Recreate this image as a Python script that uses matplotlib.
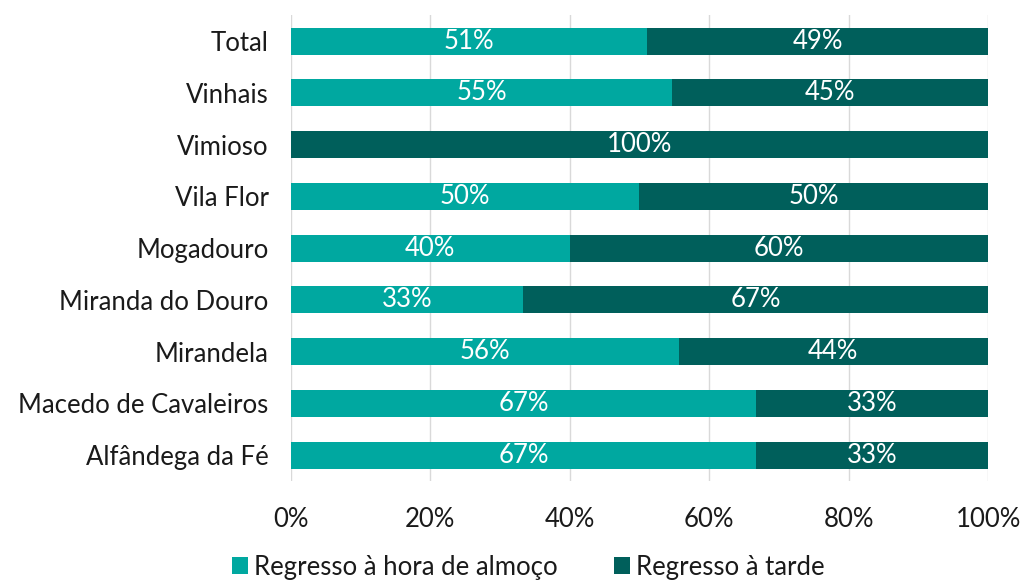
import matplotlib.pyplot as plt
import numpy as np

plt.rcParams['font.family'] = ['Lato', 'DejaVu Sans']

concelhos = ["Alfândega da Fé", "Macedo de Cavaleiros", "Mirandela", "Miranda do Douro",
             "Mogadouro", "Vila Flor", "Vimioso", "Vinhais", "Total"]
almoco = [66.7, 66.7, 55.6, 33.3, 40.0, 50.0, 0.0, 54.7, 51.1]
tarde = [33.3, 33.3, 44.4, 66.7, 60.0, 50.0, 100.0, 45.3, 48.9]
x_ticks = [0, 20, 40, 60, 80, 100]

c_almoco = "#00A8A0"
c_tarde = "#005F5B"
fs = 18.5

fig = plt.figure(figsize=(10.24, 5.88), dpi=100)
ax = fig.add_axes([0.284, 0.182, 0.681, 0.792])

y = np.arange(len(concelhos))
h = 0.52
ax.barh(y, almoco, height=h, color=c_almoco, label="Regresso à hora de almoço", zorder=3)
ax.barh(y, tarde, left=almoco, height=h, color=c_tarde, label="Regresso à tarde", zorder=3)

for i in range(len(concelhos)):
    if almoco[i] > 0:
        ax.text(almoco[i] / 2, y[i], f"{round(almoco[i])}%", ha="center", va="center",
                color="white", fontsize=fs, zorder=4)
    if tarde[i] > 0:
        ax.text(almoco[i] + tarde[i] / 2, y[i], f"{round(tarde[i])}%", ha="center", va="center",
                color="white", fontsize=fs, zorder=4)

ax.set_xlim(0, 100)
ax.set_ylim(-0.5, len(concelhos) - 0.5)
ax.set_yticks(y)
ax.set_yticklabels(concelhos, fontsize=fs, color="#1a1a1a")
ax.set_xticks(x_ticks)
ax.set_xticklabels([f"{t}%" for t in x_ticks], fontsize=fs, color="#1a1a1a")
ax.tick_params(length=0)
ax.tick_params(axis="x", pad=19)
ax.tick_params(axis="y", pad=16)
ax.grid(axis="x", color="#D9D9D9", lw=1, zorder=0)
for s in ax.spines.values():
    s.set_visible(False)

fig.legend(loc="lower center", bbox_to_anchor=(0.516, -0.025), ncol=2, frameon=False,
           fontsize=fs, handlelength=0.6, handleheight=0.6, handletextpad=0.25,
           columnspacing=2.2, labelcolor="#1a1a1a")

fig.savefig("out.png", dpi=100)
